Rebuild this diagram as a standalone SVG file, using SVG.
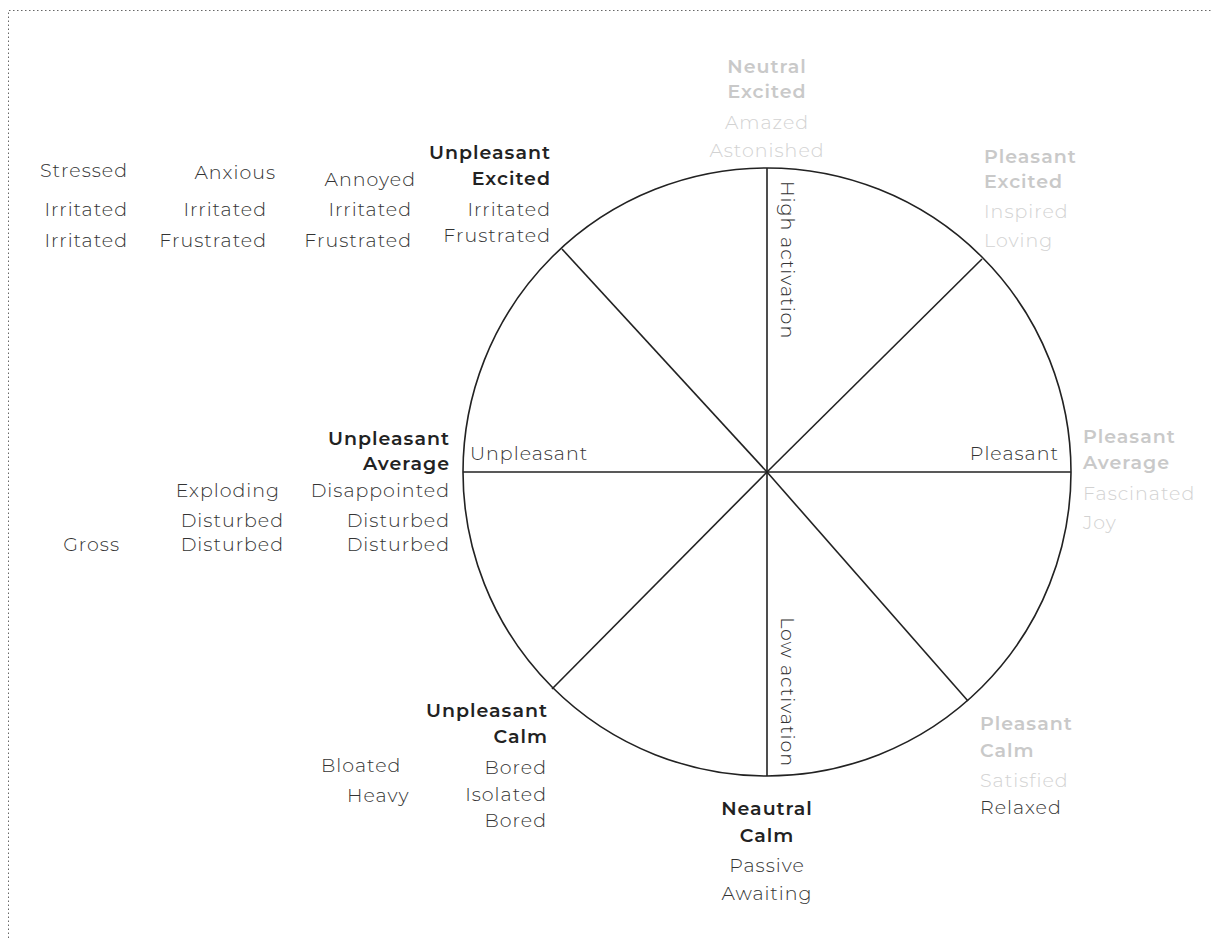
<svg xmlns="http://www.w3.org/2000/svg" width="1212" height="938" viewBox="0 0 1212 938">
<style>
text{font-family:Montserrat,"Open Sans","Liberation Sans",sans-serif;font-size:19px;font-weight:300;fill:#333;letter-spacing:1px}
.b{font-weight:600;fill:#222}
.g{fill:#d2d2d2}
.gb{font-weight:600;fill:#c9c9c9}
.e{text-anchor:end}
.m{text-anchor:middle}
.ln{stroke:#222;stroke-width:1.6;fill:none}
</style>
<rect width="1212" height="938" fill="#fff"/>
<path d="M8.5 938V10.5H1212" fill="none" stroke="#666" stroke-width="1" stroke-dasharray="1.5 2.5"/>
<g id="wheel">
<circle class="ln" cx="767" cy="472" r="304" stroke-width="2"/>
</g>
<g id="connectors">
<line class="ln" x1="767" y1="168" x2="767" y2="776"/>
<line class="ln" x1="463" y1="472" x2="1071" y2="472"/>
<line class="ln" x1="767" y1="472" x2="562" y2="249"/>
<line class="ln" x1="767" y1="472" x2="968" y2="701"/>
<line class="ln" x1="767" y1="472" x2="982" y2="259"/>
<line class="ln" x1="767" y1="472" x2="552" y2="689"/>
</g>
<g id="axis-labels">
<text x="470" y="460">Unpleasant</text>
<text class="e" x="1059" y="460">Pleasant</text>
<text transform="translate(781,181) rotate(90)">High activation</text>
<text class="e" transform="translate(781,767) rotate(90)">Low activation</text>
</g>
<g id="col1">
<text class="e" x="128" y="177">Stressed</text>
<text class="e" x="128" y="216">Irritated</text>
<text class="e" x="128" y="247">Irritated</text>
</g>
<g id="col2">
<text class="e" x="276" y="179">Anxious</text>
<text class="e" x="267" y="216">Irritated</text>
<text class="e" x="267" y="247">Frustrated</text>
</g>
<g id="col3">
<text class="e" x="416" y="186">Annoyed</text>
<text class="e" x="412" y="216">Irritated</text>
<text class="e" x="412" y="247">Frustrated</text>
</g>
<g id="unpleasant-excited">
<text class="b e" x="551" y="159">Unpleasant</text>
<text class="b e" x="551" y="185">Excited</text>
<text class="e" x="551" y="216">Irritated</text>
<text class="e" x="551" y="242">Frustrated</text>
</g>
<g id="neutral-excited">
<text class="gb m" x="767" y="73">Neutral</text>
<text class="gb m" x="767" y="98">Excited</text>
<text class="g m" x="767" y="129">Amazed</text>
<text class="g m" x="767" y="157">Astonished</text>
</g>
<g id="pleasant-excited">
<text class="gb" x="984" y="163">Pleasant</text>
<text class="gb" x="984" y="188">Excited</text>
<text class="g" x="984" y="218">Inspired</text>
<text class="g" x="984" y="247">Loving</text>
</g>
<g id="pleasant-average">
<text class="gb" x="1083" y="443">Pleasant</text>
<text class="gb" x="1083" y="469">Average</text>
<text class="g" x="1083" y="500">Fascinated</text>
<text class="g" x="1083" y="529">Joy</text>
</g>
<g id="pleasant-calm">
<text class="gb" x="980" y="730">Pleasant</text>
<text class="gb" x="980" y="757">Calm</text>
<text class="g" x="980" y="787">Satisfied</text>
<text x="980" y="814">Relaxed</text>
</g>
<g id="neutral-calm">
<text class="b m" x="767" y="815">Neautral</text>
<text class="b m" x="767" y="842">Calm</text>
<text class="m" x="767" y="872">Passive</text>
<text class="m" x="767" y="900">Awaiting</text>
</g>
<g id="unpleasant-calm">
<text class="b e" x="548" y="717">Unpleasant</text>
<text class="b e" x="548" y="743">Calm</text>
<text class="e" x="547" y="774">Bored</text>
<text class="e" x="547" y="801">Isolated</text>
<text class="e" x="547" y="827">Bored</text>
</g>
<g id="calm-extra">
<text x="321" y="772">Bloated</text>
<text x="347" y="802">Heavy</text>
</g>
<g id="unpleasant-average">
<text class="b e" x="450" y="445">Unpleasant</text>
<text class="b e" x="450" y="470">Average</text>
<text class="e" x="450" y="497">Disappointed</text>
<text class="e" x="450" y="527">Disturbed</text>
<text class="e" x="450" y="551">Disturbed</text>
</g>
<g id="average-extra">
<text class="e" x="280" y="497">Exploding</text>
<text class="e" x="284" y="527">Disturbed</text>
<text class="e" x="284" y="551">Disturbed</text>
<text class="e" x="120" y="551">Gross</text>
</g>
</svg>
